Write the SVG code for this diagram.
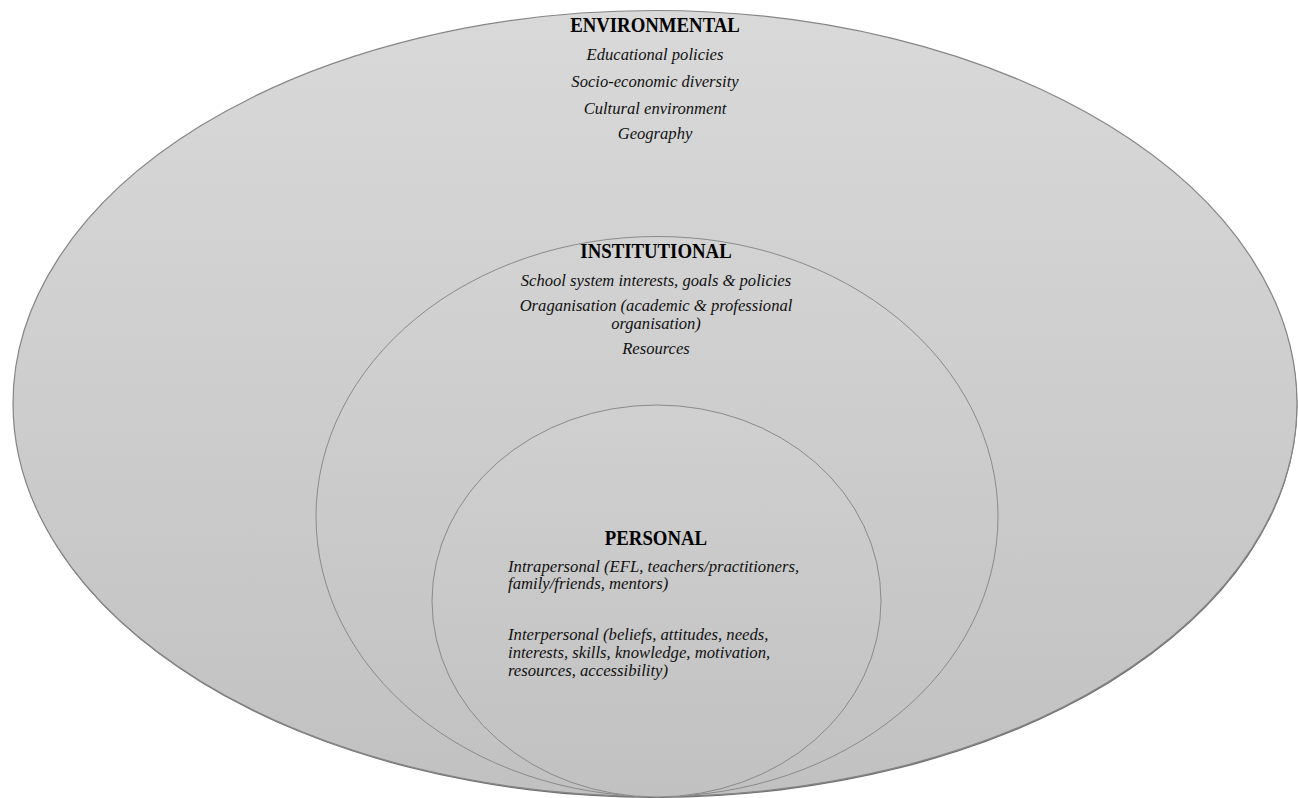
<svg xmlns="http://www.w3.org/2000/svg" width="1298" height="798" viewBox="0 0 1298 798">
<defs>
<linearGradient id="gOuter" x1="0" y1="0" x2="0" y2="1">
<stop offset="0" stop-color="#d9d9d9"/>
<stop offset="1" stop-color="#c1c1c1"/>
</linearGradient>
<linearGradient id="gMid" x1="0" y1="0" x2="0" y2="1">
<stop offset="0" stop-color="#d3d3d3"/>
<stop offset="1" stop-color="#c1c1c1"/>
</linearGradient>
<linearGradient id="gIn" x1="0" y1="0" x2="0" y2="1">
<stop offset="0" stop-color="#d0d0d0"/>
<stop offset="1" stop-color="#c1c1c1"/>
</linearGradient>
</defs>
<style>
.t{font-family:"Liberation Serif","Times New Roman",serif;font-weight:bold;font-size:20px;fill:#000;text-anchor:middle}
.i{font-family:"Liberation Serif","Times New Roman",serif;font-style:italic;font-size:16.6px;fill:#111;text-anchor:middle}
.il{font-family:"Liberation Serif","Times New Roman",serif;font-style:italic;font-size:16.7px;fill:#111}
.ring{stroke:#8a8a8a;stroke-width:1}
</style>
<rect width="1298" height="798" fill="#fff"/>
<g id="environmental">
<ellipse cx="655.5" cy="405" rx="642" ry="393" fill="#6e6e6e"/>
<ellipse cx="655" cy="403.5" rx="642" ry="393" fill="url(#gOuter)" stroke="#858585" stroke-width="1.2"/>
<text class="t" transform="translate(655,32) scale(0.94,1)">ENVIRONMENTAL</text>
<text class="i" x="655" y="60">Educational policies</text>
<text class="i" x="655" y="87">Socio-economic diversity</text>
<text class="i" x="655" y="114">Cultural environment</text>
<text class="i" x="655" y="139">Geography</text>
</g>
<g id="institutional">
<ellipse class="ring" cx="657" cy="516.5" rx="341" ry="280" fill="url(#gMid)"/>
<text class="t" transform="translate(656,258) scale(0.94,1)">INSTITUTIONAL</text>
<text class="i" x="656" y="286">School system interests, goals &amp; policies</text>
<text class="i" x="656" y="311">Oraganisation (academic &amp; professional</text>
<text class="i" x="656" y="329">organisation)</text>
<text class="i" x="656" y="354">Resources</text>
</g>
<g id="personal">
<ellipse class="ring" cx="656.5" cy="601" rx="224.5" ry="196" fill="url(#gIn)"/>
<text class="t" transform="translate(656,545) scale(0.94,1)">PERSONAL</text>
<text class="il" x="508" y="572">Intrapersonal (EFL, teachers/practitioners,</text>
<text class="il" x="508" y="589">family/friends, mentors)</text>
<text class="il" x="508" y="640">Interpersonal (beliefs, attitudes, needs,</text>
<text class="il" x="508" y="658">interests, skills, knowledge, motivation,</text>
<text class="il" x="508" y="676">resources, accessibility)</text>
</g>
<g id="connectors"></g>
</svg>
